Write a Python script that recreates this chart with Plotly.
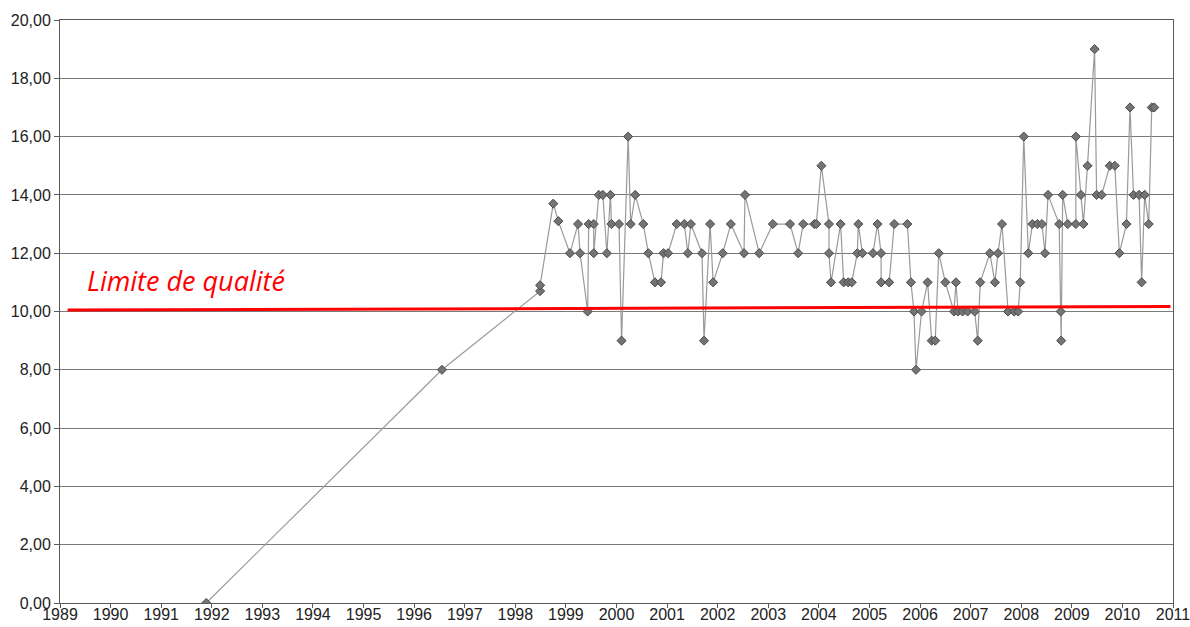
import plotly.graph_objects as go

dates = [
    1991.89, 1996.55, 1998.49, 1998.49, 1998.75, 1998.85, 1999.08, 1999.24, 1999.28, 1999.43,
    1999.45, 1999.55, 1999.55, 1999.65, 1999.73, 1999.81, 1999.88, 1999.90, 2000.05, 2000.10,
    2000.23, 2000.28, 2000.37, 2000.53, 2000.63, 2000.76, 2000.88, 2000.93, 2001.02, 2001.19,
    2001.34, 2001.41, 2001.47, 2001.69, 2001.73, 2001.85, 2001.91, 2002.10, 2002.26, 2002.52,
    2002.54, 2002.82, 2003.09, 2003.43, 2003.59, 2003.69, 2003.91, 2003.95, 2004.05, 2004.20,
    2004.20, 2004.24, 2004.43, 2004.49, 2004.58, 2004.65, 2004.76, 2004.78, 2004.86, 2005.07,
    2005.16, 2005.23, 2005.23, 2005.39, 2005.49, 2005.75, 2005.82, 2005.88, 2005.92, 2006.03,
    2006.15, 2006.23, 2006.30, 2006.37, 2006.50, 2006.67, 2006.71, 2006.75, 2006.84, 2006.94,
    2007.08, 2007.14, 2007.19, 2007.38, 2007.48, 2007.54, 2007.62, 2007.74, 2007.86, 2007.94,
    2007.98, 2008.05, 2008.14, 2008.22, 2008.32, 2008.41, 2008.47, 2008.53, 2008.75, 2008.78,
    2008.79, 2008.82, 2008.92, 2009.08, 2009.08, 2009.18, 2009.23, 2009.31, 2009.45, 2009.49,
    2009.59, 2009.75, 2009.85, 2009.94, 2010.08, 2010.15, 2010.22, 2010.33, 2010.38, 2010.44,
    2010.52, 2010.58, 2010.63,
]
values = [
    0, 8, 10.7, 10.9, 13.7, 13.1, 12, 13, 12, 10,
    13, 13, 12, 14, 14, 12, 14, 13, 13, 9,
    16, 13, 14, 13, 12, 11, 11, 12, 12, 13,
    13, 12, 13, 12, 9, 13, 11, 12, 13, 12,
    14, 12, 13, 13, 12, 13, 13, 13, 15, 13,
    12, 11, 13, 11, 11, 11, 12, 13, 12, 12,
    13, 12, 11, 11, 13, 13, 11, 10, 8, 10,
    11, 9, 9, 12, 11, 10, 11, 10, 10, 10,
    10, 9, 11, 12, 11, 12, 13, 10, 10, 10,
    11, 16, 12, 13, 13, 13, 12, 14, 13, 10,
    9, 14, 13, 13, 16, 14, 13, 15, 19, 14,
    14, 15, 15, 12, 13, 17, 14, 14, 11, 14,
    13, 17, 17,
]

# Quality limit line (red) and its label
limit_x = [1989.15, 2010.95]
limit_y = [10.05, 10.17]
limit_label = "Limite de qualité"

# Axis ticks
y_ticks = [0, 2, 4, 6, 8, 10, 12, 14, 16, 18, 20]
y_ticktext = ["0,00", "2,00", "4,00", "6,00", "8,00", "10,00", "12,00", "14,00", "16,00", "18,00", "20,00"]
x_ticks = list(range(1989, 2012))
x_ticktext = [str(y) for y in x_ticks]

fig = go.Figure()
fig.add_trace(go.Scatter(
    x=dates, y=values, mode="lines+markers",
    line=dict(color="#9a9a9a", width=1.2),
    marker=dict(symbol="diamond", size=7, color="#747474", line=dict(color="#4a4a4a", width=1)),
    showlegend=False, hoverinfo="x+y",
))
fig.add_trace(go.Scatter(
    x=limit_x, y=limit_y, mode="lines",
    line=dict(color="#ff0000", width=3),
    showlegend=False, hoverinfo="skip",
))
fig.add_annotation(
    x=1989.5, y=11.05, xref="x", yref="y", text="<i>" + limit_label + "</i>",
    showarrow=False, xanchor="left", yanchor="middle",
    font=dict(family="Open Sans", size=27, color="#ff0000"),
)

axis_common = dict(
    showline=True, linecolor="#5a5a5a", linewidth=1, mirror=True,
    ticks="outside", tickcolor="#5a5a5a", tickwidth=1,
    tickfont=dict(family="Liberation Sans, Arial, sans-serif", size=16, color="#222222"),
    zeroline=False, automargin=False, ticklabeloverflow="allow",
)
fig.update_xaxes(
    range=[1989, 2011], tickmode="array", tickvals=x_ticks, ticktext=x_ticktext,
    showgrid=False, ticklen=4, ticklabelstandoff=-7, **axis_common,
)
fig.update_yaxes(
    range=[0, 20], tickmode="array", tickvals=y_ticks, ticktext=y_ticktext,
    showgrid=True, gridcolor="#7a7a7a", gridwidth=1, ticklen=5, **axis_common,
)
fig.update_layout(
    width=1190, height=627,
    margin=dict(l=60, r=17, t=20, b=24, autoexpand=False),
    paper_bgcolor="white", plot_bgcolor="white",
)
# Remove the default page margin so the figure fills the window exactly; hide the mode bar.
fig.write_html(
    "out.html",
    config={"displayModeBar": False},
    post_script="document.body.style.margin='0';document.body.style.overflow='hidden';",
)
